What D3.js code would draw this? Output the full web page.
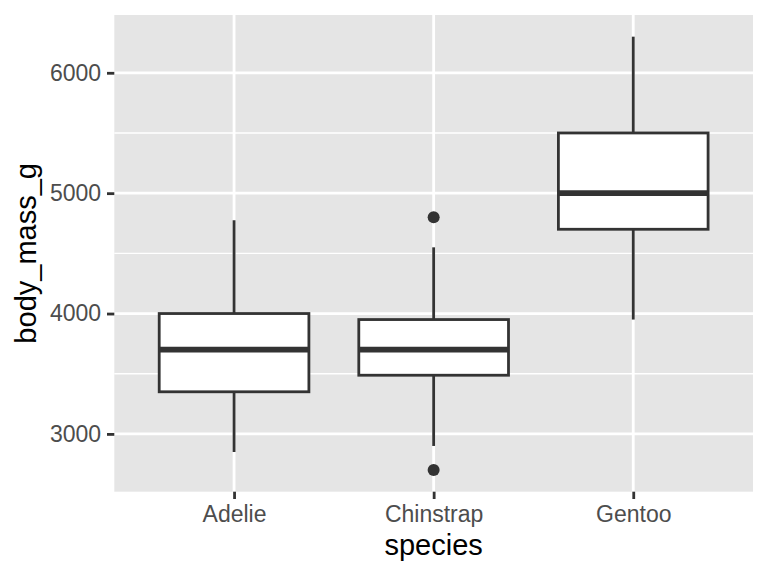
<!DOCTYPE html>
<html>
<head>
<meta charset="utf-8">
<script src="https://cdn.jsdelivr.net/npm/d3@7"></script>
<style>
  body { margin: 0; background: white; }
  svg { display: block; font-family: "Liberation Sans", Arial, sans-serif; }
</style>
</head>
<body>
<script>
const WIDTH  = 768;
const HEIGHT = 576;

// panel edges
const LEFT   = 114.3;
const RIGHT  = 753;
const TOP    = 15;
const BOTTOM = 491.7;

// body mass (g) per species - box stats
const species    = ["Adelie", "Chinstrap", "Gentoo"];
const whiskerLow = [2850, 2900, 3950];
const q1         = [3350, 3487.5, 4700];
const median     = [3700, 3700, 5000];
const q3         = [4000, 3950, 5500];
const whiskerHi  = [4775, 4550, 6300];
const outliers   = [[], [2700, 4800], []];

const majorTicks = [3000, 4000, 5000, 6000];
const minorTicks = [3500, 4500, 5500];

function setUpChart() {
  d3.select("body").append("svg")
    .attr("width", WIDTH)
    .attr("height", HEIGHT);
}

function setScale() {
  const xScale = d3.scalePoint().domain(species).range([LEFT, RIGHT]).padding(0.6);
  const yScale = d3.scaleLinear().domain([2520, 6480]).range([BOTTOM, TOP]);
  return [xScale, yScale];
}

function drawPanel(xScale, yScale) {
  const svg = d3.select("svg");
  svg.append("rect")
    .attr("x", LEFT).attr("y", TOP)
    .attr("width", RIGHT - LEFT).attr("height", BOTTOM - TOP)
    .style("fill", "#E5E5E5");

  // minor grid first, then major
  svg.selectAll(".minor").data(minorTicks).enter()
    .append("line").attr("class", "minor")
      .attr("x1", LEFT).attr("x2", RIGHT)
      .attr("y1", d => yScale(d)).attr("y2", d => yScale(d))
      .style("stroke", "white").style("stroke-width", 1.4);
  svg.selectAll(".major-y").data(majorTicks).enter()
    .append("line").attr("class", "major-y")
      .attr("x1", LEFT).attr("x2", RIGHT)
      .attr("y1", d => yScale(d)).attr("y2", d => yScale(d))
      .style("stroke", "white").style("stroke-width", 2.8);
  svg.selectAll(".major-x").data(species).enter()
    .append("line").attr("class", "major-x")
      .attr("y1", TOP).attr("y2", BOTTOM)
      .attr("x1", d => xScale(d)).attr("x2", d => xScale(d))
      .style("stroke", "white").style("stroke-width", 2.8);
}

function addAxis(xScale, yScale) {
  const svg = d3.select("svg");

  const yAxis = d3.axisLeft(yScale).tickValues(majorTicks)
    .tickFormat(d3.format("d")).tickSize(7.3).tickPadding(5.9);
  const gy = svg.append("g")
    .attr("transform", "translate(" + LEFT + ",0)")
    .call(yAxis);

  const xAxis = d3.axisBottom(xScale).tickSize(7.3).tickPadding(5.9);
  const gx = svg.append("g")
    .attr("transform", "translate(0," + BOTTOM + ")")
    .call(xAxis);

  [gy, gx].forEach(g => {
    g.select(".domain").remove();
    g.selectAll("line").style("stroke", "#333333").style("stroke-width", 2.8);
    g.selectAll("text")
      .style("font-size", "23px")
      .style("fill", "#4D4D4D")
      .style("font-family", "'Liberation Sans', Arial, sans-serif");
  });
  gx.selectAll("text").attr("dy", "0.76em");

  // axis titles
  svg.append("text")
    .attr("x", (LEFT + RIGHT) / 2)
    .attr("y", 555)
    .style("font-size", "29px")
    .style("text-anchor", "middle")
    .style("fill", "black")
    .text("species");
  svg.append("text")
    .attr("transform", "rotate(-90)")
    .attr("x", -(TOP + BOTTOM) / 2)
    .attr("y", 35.7)
    .style("font-size", "29px")
    .style("text-anchor", "middle")
    .style("fill", "black")
    .text("body_mass_g");
}

function drawBoxes(xScale, yScale) {
  const svg = d3.select("svg");
  const boxW = xScale.step() * 0.75;
  const data = species.map((s, i) => ({
    s: s, lo: whiskerLow[i], q1: q1[i], med: median[i], q3: q3[i], hi: whiskerHi[i], out: outliers[i]
  }));
  const ink = "#333333";

  const g = svg.selectAll(".box").data(data).enter().append("g").attr("class", "box");

  // whiskers
  g.append("line")
    .attr("x1", d => xScale(d.s)).attr("x2", d => xScale(d.s))
    .attr("y1", d => yScale(d.hi)).attr("y2", d => yScale(d.q3))
    .style("stroke", ink).style("stroke-width", 2.8);
  g.append("line")
    .attr("x1", d => xScale(d.s)).attr("x2", d => xScale(d.s))
    .attr("y1", d => yScale(d.q1)).attr("y2", d => yScale(d.lo))
    .style("stroke", ink).style("stroke-width", 2.8);

  // box
  g.append("rect")
    .attr("x", d => xScale(d.s) - boxW / 2)
    .attr("y", d => yScale(d.q3))
    .attr("width", boxW)
    .attr("height", d => yScale(d.q1) - yScale(d.q3))
    .style("fill", "white").style("stroke", ink).style("stroke-width", 2.8);

  // median
  g.append("line")
    .attr("x1", d => xScale(d.s) - boxW / 2).attr("x2", d => xScale(d.s) + boxW / 2)
    .attr("y1", d => yScale(d.med)).attr("y2", d => yScale(d.med))
    .style("stroke", ink).style("stroke-width", 5.6);

  // outliers
  g.selectAll("circle").data(d => d.out.map(v => ({ s: d.s, v: v }))).enter()
    .append("circle")
      .attr("cx", d => xScale(d.s))
      .attr("cy", d => yScale(d.v))
      .attr("r", 6)
      .style("fill", ink);
}

setUpChart();
const [xScale, yScale] = setScale();
drawPanel(xScale, yScale);
drawBoxes(xScale, yScale);
addAxis(xScale, yScale);
</script>
</body>
</html>
